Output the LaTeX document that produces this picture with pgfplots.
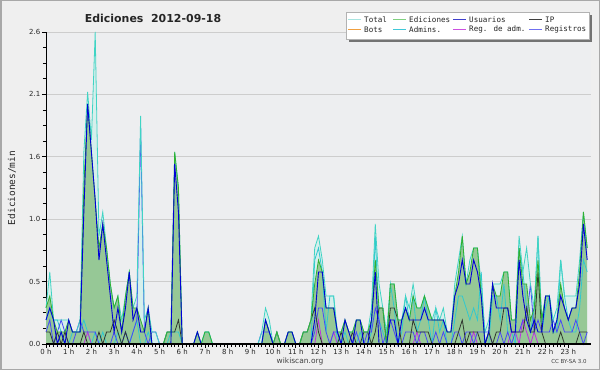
\documentclass[border=0pt]{standalone}
\usepackage{fontspec}
\setmainfont{DejaVu Sans}
\newfontfamily\monofont{DejaVu Sans Mono}
\usepackage{pgfplots}
\pgfplotsset{compat=1.18}
\usepackage{pgfplotstable}

\definecolor{outerbg}{HTML}{EFEFEF}
\definecolor{plotbg}{HTML}{EDEEF0}
\definecolor{framec}{HTML}{A8A8A8}
\definecolor{gridc}{HTML}{CDCDCD}
\definecolor{totfill}{HTML}{D6EFEC}
\definecolor{totline}{HTML}{40D4C4}
\definecolor{edfill}{HTML}{96C896}
\definecolor{edline}{HTML}{30B030}
\definecolor{usline}{HTML}{0000D8}
\definecolor{ipline}{HTML}{303830}
\definecolor{regline}{HTML}{4848F8}
\definecolor{admline}{HTML}{30C8D0}
\definecolor{radmline}{HTML}{C030E0}
\definecolor{lgtot}{HTML}{A8E4E0}
\definecolor{lged}{HTML}{80D080}
\definecolor{lgus}{HTML}{4040CC}
\definecolor{lgip}{HTML}{404040}
\definecolor{lgbot}{HTML}{F0A040}
\definecolor{lgadm}{HTML}{40C8D8}
\definecolor{lgradm}{HTML}{CC50E0}
\definecolor{lgreg}{HTML}{7070F0}

\pgfplotstableread{
i T E U I R A M
0 0.3 0.3 0.2 0.1 0.1 0.2 0
1 0.6 0.4 0.3 0.1 0.2 0.3 0
2 0.2 0.2 0.2 0 0 0.2 0
3 0.2 0.1 0 0.1 0.1 0.2 0
4 0.2 0.1 0.1 0 0.2 0.1 0
5 0.2 0.1 0 0.1 0.1 0 0
6 0.2 0.2 0.2 0 0 0 0
7 0.1 0.1 0.1 0 0 0.1 0
8 0.1 0.1 0.1 0 0.1 0.1 0
9 0.2 0.1 0.1 0 0.2 0.1 0
10 1.6 1.3 1.1 0.1 0.1 0.2 0
11 2.1 2.0 2.0 0 0.1 0.1 0.1
12 1.7 1.6 1.6 0 0.1 0 0
13 2.6 1.2 1.2 0 0.1 0.1 0
14 0.9 0.8 0.7 0.1 0 0 0
15 1.1 1.0 1.0 0 0 0.1 0
16 0.8 0.8 0.7 0.1 0 0 0
17 0.5 0.5 0.4 0.1 0 0 0
18 0.3 0.3 0.1 0.2 0.1 0 0
19 0.4 0.4 0.3 0.1 0 0.1 0
20 0.2 0.1 0.1 0 0 0 0
21 0.4 0.4 0.3 0.1 0.1 0.1 0
22 0.6 0.6 0.6 0 0 0 0
23 0.3 0.3 0.2 0 0.1 0.1 0
24 0.4 0.3 0.3 0 0.2 0.2 0
25 1.9 0.2 0.1 0 1.8 0 0
26 0.2 0.1 0.1 0 0.1 0 0
27 0.3 0.3 0.3 0 0 0.1 0
28 0.1 0 0 0 0.1 0 0
29 0.1 0 0 0 0.1 0 0
30 0 0 0 0 0 0 0
31 0 0 0 0 0 0 0
32 0.1 0.1 0 0.1 0 0 0
33 0.1 0.1 0 0.1 0 0.1 0
34 1.6 1.6 1.5 0.1 0 0.1 0
35 1.3 1.3 1.1 0.2 0 0.1 0
36 0 0 0 0 0 0 0
37 0 0 0 0 0 0 0
38 0 0 0 0 0 0 0
39 0 0 0 0 0 0 0
40 0.1 0.1 0.1 0 0 0 0
41 0 0 0 0 0 0 0
42 0.1 0.1 0 0 0 0.1 0
43 0.1 0.1 0 0 0 0.1 0
44 0 0 0 0 0 0 0
45 0 0 0 0 0 0 0
46 0 0 0 0 0 0 0
47 0 0 0 0 0 0 0
48 0 0 0 0 0 0 0
49 0 0 0 0 0 0 0
50 0 0 0 0 0 0 0
51 0 0 0 0 0 0 0
52 0 0 0 0 0 0 0
53 0 0 0 0 0 0 0
54 0 0 0 0 0 0 0
55 0 0 0 0 0 0 0
56 0 0 0 0 0 0 0
57 0.1 0 0 0 0.1 0 0
58 0.3 0.2 0.2 0 0.1 0.2 0
59 0.2 0.1 0.1 0 0.1 0.1 0
60 0 0 0 0 0 0 0
61 0.1 0.1 0 0.1 0 0 0
62 0 0 0 0 0 0 0
63 0 0 0 0 0 0 0
64 0.1 0.1 0.1 0 0 0 0
65 0.1 0.1 0.1 0 0 0 0
66 0 0 0 0 0 0 0
67 0 0 0 0 0 0 0
68 0.1 0.1 0 0.1 0 0 0
69 0.1 0.1 0 0.1 0 0 0
70 0.2 0.2 0 0.2 0 0 0
71 0.8 0.5 0.2 0.3 0.1 0.7 0
72 0.9 0.7 0.6 0.1 0.3 0.8 0.2
73 0.7 0.6 0.6 0 0.3 0.6 0
74 0.4 0.3 0.3 0 0.1 0.1 0
75 0.4 0.3 0.3 0 0 0.4 0
76 0.4 0.3 0.3 0 0.1 0.4 0.1
77 0.1 0.1 0.1 0 0.1 0 0
78 0.1 0.1 0 0.1 0 0 0
79 0.2 0.2 0.2 0 0 0.1 0
80 0.1 0.1 0.1 0 0 0 0
81 0.1 0.1 0 0.1 0 0 0
82 0.2 0.2 0.2 0 0.1 0 0
83 0.2 0.2 0.2 0 0 0.1 0
84 0.1 0.1 0 0.1 0 0 0
85 0.1 0.1 0 0.1 0.1 0 0
86 0.3 0.2 0.2 0 0.1 0.1 0
87 1.0 0.7 0.6 0.1 0.3 0.9 0
88 0.5 0.3 0 0.3 0.2 0.2 0
89 0.3 0.3 0 0.3 0 0.1 0
90 0.1 0 0 0 0.1 0 0
91 0.5 0.5 0.2 0.3 0.2 0.5 0
92 0.5 0.5 0.2 0.3 0.1 0.3 0
93 0.2 0.2 0 0.2 0 0 0
94 0.2 0.2 0.2 0 0 0.1 0
95 0.4 0.3 0.3 0 0.1 0.4 0
96 0.3 0.2 0.2 0 0.1 0.2 0
97 0.5 0.4 0.2 0.2 0.1 0.4 0
98 0.3 0.3 0.2 0.1 0 0.1 0.1
99 0.3 0.3 0.2 0.1 0.1 0.2 0
100 0.4 0.4 0.3 0.1 0.1 0.4 0
101 0.3 0.3 0.2 0.1 0 0.2 0
102 0.2 0.2 0.2 0 0 0 0
103 0.3 0.2 0.2 0 0.1 0.3 0
104 0.2 0.2 0.2 0 0 0.1 0
105 0.3 0.2 0.2 0 0.1 0.2 0
106 0.1 0.1 0.1 0 0 0 0
107 0.1 0.1 0.1 0 0 0 0
108 0.5 0.4 0.4 0 0.1 0.2 0
109 0.7 0.6 0.5 0.1 0.1 0.4 0
110 0.9 0.9 0.7 0.2 0 0.4 0
111 0.5 0.5 0.5 0 0.1 0.3 0
112 0.7 0.6 0.5 0.1 0.1 0.2 0
113 0.8 0.8 0.7 0.1 0 0.3 0.1
114 0.8 0.8 0.6 0.1 0.1 0.2 0
115 0.5 0.4 0.4 0 0.1 0.6 0
116 0.1 0 0 0 0.1 0 0
117 0.2 0.1 0.1 0.1 0.1 0 0
118 0.5 0.5 0.5 0 0 0.4 0
119 0.5 0.4 0.3 0.1 0 0.4 0
120 0.5 0.4 0.3 0.1 0.1 0.2 0
121 0.6 0.6 0.3 0.3 0 0.5 0
122 0.6 0.6 0.3 0.3 0.1 0.1 0
123 0.2 0.2 0.1 0.1 0 0.1 0.1
124 0.2 0.2 0.1 0.1 0.1 0 0.1
125 0.9 0.8 0.7 0.1 0.1 0.8 0
126 0.6 0.5 0.4 0.1 0.2 0.6 0.2
127 0.8 0.5 0.2 0.3 0.2 0.3 0.1
128 0.5 0.2 0.1 0.1 0.5 0.1 0
129 0.3 0.3 0.2 0.1 0.1 0.3 0.1
130 0.9 0.7 0.1 0.6 0.2 0.9 0
131 0.2 0.2 0.1 0.1 0.1 0.1 0
132 0.4 0.4 0.4 0 0.1 0.3 0
133 0.4 0.4 0.4 0 0.1 0.4 0
134 0.2 0.1 0.1 0 0.2 0.1 0
135 0.3 0.2 0.2 0 0.1 0.1 0
136 0.7 0.5 0.4 0.1 0.2 0.7 0
137 0.4 0.3 0.3 0 0.1 0.4 0
138 0.4 0.2 0.2 0 0.1 0.2 0
139 0.4 0.3 0.3 0 0.1 0.1 0
140 0.4 0.3 0.3 0 0.2 0.1 0
141 0.7 0.6 0.5 0.1 0.1 0.3 0
142 1.1 1.1 1.0 0.1 0 0.7 0
143 0.8 0.8 0.7 0.1 0.1 0.6 0
}\data

\newcommand\legentry[4]{%
  \draw[draw=#3, line width=1.2bp] (#1bp,#2bp) -- ++(13bp,0bp);
  \node[anchor=west, inner sep=0pt, font=\monofont\fontsize{7.6}{9}\selectfont, text=black!85] at ([xshift=16bp]#1bp,#2bp) {#4};}

\begin{document}
\begin{tikzpicture}
\fill[outerbg] (0bp,0bp) rectangle (600bp,370bp);
\draw[framec, line width=1.5bp] (0.75bp,0.75bp) rectangle (599.25bp,369.25bp);
\path[use as bounding box] (0bp,0bp) rectangle (600bp,370bp);
\node[font=\bfseries\fontsize{11}{13}\selectfont, text=black!85] at (153bp,352bp) {Ediciones\ \ 2012-09-18};
\node[font=\fontsize{7.5}{9}\selectfont, text=black!75] at (300bp,9bp) {wikiscan.org};
\node[font=\fontsize{5.5}{7}\selectfont, text=black!75] at (569bp,8.5bp) {CC BY-SA 3.0};
\begin{axis}[
  at={(46bp,26bp)}, anchor=south west, scale only axis,
  width=545bp, height=312bp,
  xmin=0, xmax=24, ymin=0, ymax=2.6,
  clip=false,
  axis background/.style={fill=plotbg},
  axis x line*=bottom, axis y line*=left,
  x axis line style={line width=1.4bp, black},
  y axis line style={line width=0.8bp, black},
  xtick={0,...,23},
  xticklabels={0 h,1 h,2 h,3 h,4 h,5 h,6 h,7 h,8 h,9 h,10 h,11 h,12 h,13 h,14 h,15 h,16 h,17 h,18 h,19 h,20 h,21 h,22 h,23 h},
  minor x tick num=5,
  ytick={0,0.52,1.04,1.56,2.08,2.6},
  yticklabels={0.0,0.5,1.0,1.6,2.1,2.6},
  minor y tick num=3,
  ymajorgrids, grid style={gridc, line width=0.8bp},
  tick align=outside, major tick length=4bp, minor tick length=3bp,
  tick style={black, line width=0.7bp},
  ticklabel style={font=\fontsize{7}{8}\selectfont, text=black!85},
  /pgf/number format/assume math mode=true,
  xticklabel style={inner sep=1bp},
  yticklabel style={inner sep=1.5bp},
  ylabel={Ediciones/min},
  every axis y label/.style={at={([xshift=-34bp]axis description cs:0,0.5)}, rotate=90, anchor=center, font=\monofont\fontsize{9.5}{11}\selectfont, text=black!85},
]
\addplot[draw=none, fill=totfill] table[x expr=\thisrow{i}/6, y=T] {\data} \closedcycle;
\addplot[draw=none, fill=edfill] table[x expr=\thisrow{i}/6, y=E] {\data} \closedcycle;
\addplot[admline, line width=0.8bp] table[x expr=\thisrow{i}/6, y=A] {\data};
\addplot[radmline, line width=0.8bp] table[x expr=\thisrow{i}/6, y=M] {\data};
\addplot[regline, line width=0.8bp] table[x expr=\thisrow{i}/6, y=R] {\data};
\addplot[ipline, line width=0.8bp] table[x expr=\thisrow{i}/6, y=I] {\data};
\addplot[totline, line width=0.8bp] table[x expr=\thisrow{i}/6, y=T] {\data};
\addplot[edline, line width=0.8bp] table[x expr=\thisrow{i}/6, y=E] {\data};
\addplot[usline, line width=0.9bp] table[x expr=\thisrow{i}/6, y=U] {\data};
\draw[black, line width=1.4bp] (axis cs:0,0) -- (axis cs:24,0);
\end{axis}
% legend
\fill[black!55] (349bp,328bp) rectangle (592bp,355bp);
\fill[white] (346bp,331bp) rectangle (589bp,358bp);
\draw[black!30, line width=0.8bp] (346bp,331bp) rectangle (589bp,358bp);
\legentry{348}{350.5}{lgtot}{Total}
\legentry{393}{350.5}{lged}{Ediciones}
\legentry{453}{350.5}{lgus}{Usuarios}
\legentry{529}{350.5}{lgip}{IP}
\legentry{348}{340.5}{lgbot}{Bots}
\legentry{393}{340.5}{lgadm}{Admins.}
\legentry{453}{340.5}{lgradm}{Reg. de adm.}
\legentry{529}{340.5}{lgreg}{Registros}
\end{tikzpicture}
\end{document}
